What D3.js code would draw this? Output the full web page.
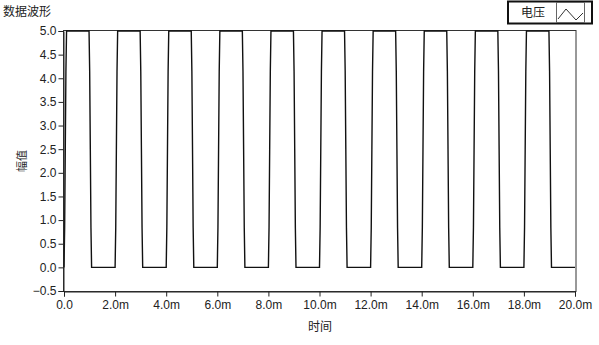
<!DOCTYPE html>
<html>
<head>
<meta charset="utf-8">
<script src="https://cdn.jsdelivr.net/npm/d3@7/dist/d3.min.js"></script>
<style>
  body { margin: 0; background: #fff; }
  svg { display: block; font-family: "Liberation Sans", Arial, sans-serif; }
</style>
</head>
<body>
<svg id="chart" width="599" height="345"></svg>
<script>
// values (time in ms, amplitude in V)
var yTicks = [-0.5, 0.0, 0.5, 1.0, 1.5, 2.0, 2.5, 3.0, 3.5, 4.0, 4.5, 5.0];
var xTicks = [0, 2, 4, 6, 8, 10, 12, 14, 16, 18, 20];
var xTickLabels = ["0.0", "2.0m", "4.0m", "6.0m", "8.0m", "10.0m", "12.0m", "14.0m", "16.0m", "18.0m", "20.0m"];
var riseTimes = [0, 2, 4, 6, 8, 10, 12, 14, 16, 18, 20];
var fallTimes = [0.98, 2.98, 4.98, 6.98, 8.98, 10.98, 12.98, 14.98, 16.98, 18.98];
var riseLevels = [0, 0.84, 2.5, 4.15, 5];
var fallLevels = [5, 4.15, 2.5, 0.84, 0];
var sampleStep = 0.025;

var svg = d3.select("#chart");
var margin = {left: 64, right: 575, top: 31, bottom: 291};

var x = d3.scaleLinear().domain([0, 20]).range([margin.left, margin.right]);
var y = d3.scaleLinear().domain([-0.5, 5]).range([margin.bottom, margin.top]);

// build waveform from the edges; last rising edge is cut at 20 ms
var wave = [];
riseTimes.forEach(function(t, i) {
    riseLevels.forEach(function(v, k) {
        var tt = t + k * sampleStep;
        if (tt <= 20.0001) wave.push([tt, v]);
    });
    if (i < fallTimes.length) {
        fallLevels.forEach(function(v, k) {
            wave.push([fallTimes[i] + k * sampleStep, v]);
        });
    }
});

// plot frame
svg.append("rect")
    .attr("x", margin.left - 0.5)
    .attr("y", 30.5)
    .attr("width", 576 - margin.left + 0.5)
    .attr("height", margin.bottom - 30)
    .attr("fill", "none")
    .attr("stroke", "#333")
    .attr("stroke-width", 1);

var line = d3.line()
    .x(function(d) { return x(d[0]); })
    .y(function(d) { return y(d[1]); });

svg.append("path")
    .datum(wave)
    .attr("d", line)
    .attr("fill", "none")
    .attr("stroke", "#111")
    .attr("stroke-width", 1.4);

// y axis
var yAxis = d3.axisLeft(y)
    .tickValues(yTicks)
    .tickFormat(d3.format(".1f"))
    .tickSize(5)
    .tickPadding(2);

var gy = svg.append("g")
    .attr("transform", "translate(" + (margin.left - 0.5) + ",0)")
    .call(yAxis);
gy.select(".domain").attr("stroke", "#222");
gy.selectAll(".tick line").attr("stroke", "#222");
gy.selectAll(".tick text")
    .attr("font-size", 12)
    .attr("fill", "#222")
    .attr("font-family", "'Liberation Sans', Arial, sans-serif");

// x axis
var xAxis = d3.axisBottom(x)
    .tickValues(xTicks)
    .tickFormat(function(d, i) { return xTickLabels[i]; })
    .tickSize(5)
    .tickPadding(4);

var gx = svg.append("g")
    .attr("transform", "translate(0," + (margin.bottom + 0.5) + ")")
    .call(xAxis);
gx.select(".domain").attr("stroke", "#222");
gx.selectAll(".tick line").attr("stroke", "#222");
gx.selectAll(".tick text")
    .attr("font-size", 12)
    .attr("fill", "#222")
    .attr("font-family", "'Liberation Sans', Arial, sans-serif");

// titles
svg.append("text")
    .attr("x", 3)
    .attr("y", 16)
    .attr("font-size", 12)
    .attr("fill", "#222")
    .attr("font-family", "'Noto Sans CJK SC', sans-serif")
    .text("数据波形");

svg.append("text")
    .attr("x", 320)
    .attr("y", 331)
    .attr("text-anchor", "middle")
    .attr("font-size", 12)
    .attr("fill", "#222")
    .attr("font-family", "'Noto Sans CJK SC', sans-serif")
    .text("时间");

svg.append("text")
    .attr("transform", "translate(26,161) rotate(-90)")
    .attr("text-anchor", "middle")
    .attr("font-size", 11)
    .attr("fill", "#222")
    .attr("font-family", "'Noto Sans CJK SC', sans-serif")
    .text("幅值");

// legend
var lg = svg.append("g");
lg.append("rect")
    .attr("x", 508).attr("y", 1.5)
    .attr("width", 84).attr("height", 22)
    .attr("fill", "#fff")
    .attr("stroke", "#111")
    .attr("stroke-width", 2);
lg.append("text")
    .attr("x", 533).attr("y", 17)
    .attr("text-anchor", "middle")
    .attr("font-size", 12)
    .attr("fill", "#222")
    .attr("font-family", "'Noto Sans CJK SC', sans-serif")
    .text("电压");
lg.append("rect")
    .attr("x", 556.5).attr("y", 2.5)
    .attr("width", 28).attr("height", 20)
    .attr("fill", "#fff")
    .attr("stroke", "#666")
    .attr("stroke-width", 1);
lg.append("path")
    .attr("d", "M558,19 L566,9 L576,20 L583,13")
    .attr("fill", "none")
    .attr("stroke", "#333")
    .attr("stroke-width", 1);
</script>
</body>
</html>
